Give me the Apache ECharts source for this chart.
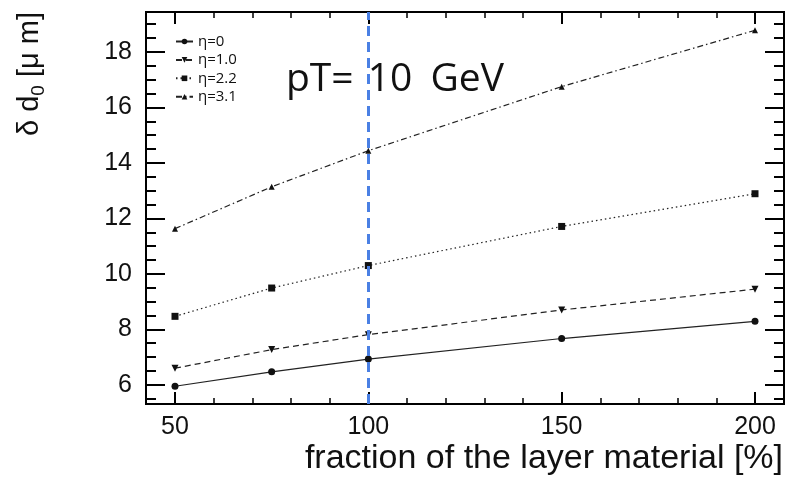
<!DOCTYPE html>
<html>
<head>
<meta charset="utf-8">
<script src="https://cdn.jsdelivr.net/npm/echarts@6/dist/echarts.min.js"></script>
<style>
html,body{margin:0;padding:0;background:#fff;}
#chart{width:785px;height:478px;}
</style>
</head>
<body>
<div id="chart"></div>
<script>
// ---- data ----
const xValues = [50, 75, 100, 150, 200];
const seriesNames = ['η=0', 'η=1.0', 'η=2.2', 'η=3.1'];
const eta0  = [5.95, 6.47, 6.93, 7.67, 8.29];
const eta10 = [6.60, 7.27, 7.81, 8.70, 9.45];
const eta22 = [8.47, 9.49, 10.30, 11.71, 12.89];
const eta31 = [11.63, 13.14, 14.44, 16.75, 18.78];
const xTicks = [50, 100, 150, 200];
const yTicks = [6, 8, 10, 12, 14, 16, 18];
const markerX = 100;
const titleParts = ['pT=', '10', 'GeV'];
const xTitle = 'fraction of the layer material [%]';

// ---- layout ----
const W = 785, H = 478;
const FR = {left: 146, right: 784, top: 12, bottom: 404};
const XR = [42.5, 207.5], YR = [5.31, 19.44];
const px = v => FR.left + (v - XR[0]) / (XR[1] - XR[0]) * (FR.right - FR.left);
const py = v => FR.top + (YR[1] - v) / (YR[1] - YR[0]) * (FR.bottom - FR.top);

const AX_FONT = 'Liberation Sans, Arial, Helvetica, sans-serif';
const TX_FONT = 'Open Sans, Noto Sans, sans-serif';
const ink = '#111';
const hidden = {show: false};

function pairs(ys) { return xValues.map((x, i) => [x, ys[i]]); }

const chart = echarts.init(document.getElementById('chart'), null, {renderer: 'canvas'});

const yMajMin = yTicks[0], yMajMax = yTicks[yTicks.length - 1];
const yMinMin = 5.5, yMinMax = 19;

const tStyle = {fontFamily: TX_FONT, fontSize: 39, fontWeight: 'normal', color: ink};
const option = {
  animation: false,
  backgroundColor: '#fff',
  title: [
    {text: '{a|' + titleParts[0] + ' }{b|' + titleParts[1] + ' }{c|' + titleParts[2] + '}',
     left: 286, top: 60, padding: 0,
     textStyle: {fontFamily: TX_FONT, fontSize: 39, fontWeight: 'normal', color: ink,
       rich: {a: tStyle, b: Object.assign({padding: [0, 0, 0, 4]}, tStyle), c: Object.assign({padding: [0, 0, 0, 8]}, tStyle)}}},
    {text: xTitle, right: 2, top: 442, padding: 0,
     textStyle: {fontFamily: AX_FONT, fontSize: 34, fontWeight: 'normal', color: ink}}
  ],
  graphic: [{
    type: 'text', x: 30, y: 12, rotation: Math.PI / 2,
    style: {
      text: '{a|δ d}{s|0}{a| [μ m]}',
      align: 'right', verticalAlign: 'middle',
      rich: {
        a: {fontFamily: AX_FONT, fontSize: 29, lineHeight: 36, fill: ink},
        s: {fontFamily: AX_FONT, fontSize: 19, lineHeight: 36, verticalAlign: 'bottom', fill: ink}
      }
    }
  }],
  legend: {
    orient: 'vertical', left: 175, top: 34, padding: 0,
    itemWidth: 17, itemHeight: 7, itemGap: 3.4,
    data: seriesNames,
    textStyle: {fontFamily: TX_FONT, fontSize: 15, color: ink}
  },
  grid: [
    {left: FR.left, top: FR.top, width: FR.right - FR.left, height: FR.bottom - FR.top,
     show: true, borderColor: '#000', borderWidth: 2, backgroundColor: 'transparent'},
    {left: px(xTicks[0]), top: FR.top, width: px(xTicks[xTicks.length-1]) - px(xTicks[0]), height: FR.bottom - FR.top},
    {left: FR.left, top: py(yMajMax), width: FR.right - FR.left, height: py(yMajMin) - py(yMajMax)},
    {left: FR.left, top: py(yMinMax), width: FR.right - FR.left, height: py(yMinMin) - py(yMinMax)}
  ],
  xAxis: [
    {gridIndex: 0, type: 'value', min: XR[0], max: XR[1], axisLine: hidden, axisTick: hidden, axisLabel: hidden, splitLine: hidden},
    {gridIndex: 1, type: 'value', position: 'bottom', min: xTicks[0], max: xTicks[xTicks.length-1], interval: 50,
     axisLine: hidden, splitLine: hidden,
     axisTick: {show: true, inside: true, length: 12, lineStyle: {color: '#000', width: 2}},
     minorTick: {show: true, splitNumber: 5, length: 6, lineStyle: {color: '#000', width: 1.5}},
     axisLabel: {show: true, margin: 11, fontFamily: AX_FONT, fontSize: 25, color: ink}},
    {gridIndex: 1, type: 'value', position: 'top', min: xTicks[0], max: xTicks[xTicks.length-1], interval: 50,
     axisLine: hidden, splitLine: hidden, axisLabel: hidden,
     axisTick: {show: true, inside: true, length: 12, lineStyle: {color: '#000', width: 2}},
     minorTick: {show: true, splitNumber: 5, length: 6, lineStyle: {color: '#000', width: 1.5}}},
    {gridIndex: 2, type: 'value', min: 0, max: 1, show: false},
    {gridIndex: 3, type: 'value', min: 0, max: 1, show: false}
  ],
  yAxis: [
    {gridIndex: 0, type: 'value', min: YR[0], max: YR[1], axisLine: hidden, axisTick: hidden, axisLabel: hidden, splitLine: hidden},
    {gridIndex: 1, type: 'value', min: 0, max: 1, show: false},
    {gridIndex: 2, type: 'value', position: 'left', min: yMajMin, max: yMajMax, interval: 2,
     axisLine: hidden, splitLine: hidden,
     axisTick: {show: true, inside: true, length: 19, lineStyle: {color: '#000', width: 2}},
     axisLabel: {show: true, margin: 14, fontFamily: AX_FONT, fontSize: 25, color: ink}},
    {gridIndex: 2, type: 'value', position: 'right', min: yMajMin, max: yMajMax, interval: 2,
     axisLine: hidden, splitLine: hidden, axisLabel: hidden,
     axisTick: {show: true, inside: true, length: 19, lineStyle: {color: '#000', width: 2}}},
    {gridIndex: 3, type: 'value', position: 'left', min: yMinMin, max: yMinMax, interval: 0.5,
     axisLine: hidden, splitLine: hidden, axisLabel: hidden,
     axisTick: {show: true, inside: true, length: 10, lineStyle: {color: '#000', width: 2}}},
    {gridIndex: 3, type: 'value', position: 'right', min: yMinMin, max: yMinMax, interval: 0.5,
     axisLine: hidden, splitLine: hidden, axisLabel: hidden,
     axisTick: {show: true, inside: true, length: 10, lineStyle: {color: '#000', width: 2}}}
  ],
  series: [
    {name: seriesNames[0], type: 'line', xAxisIndex: 0, yAxisIndex: 0, data: pairs(eta0),
     symbol: 'circle', symbolSize: 7, itemStyle: {color: ink},
     lineStyle: {color: '#222', width: 1.2, type: 'solid'}},
    {name: seriesNames[1], type: 'line', xAxisIndex: 0, yAxisIndex: 0, data: pairs(eta10),
     symbol: 'triangle', symbolSize: 7, symbolRotate: 180, itemStyle: {color: ink},
     lineStyle: {color: '#222', width: 1.2, type: [6, 4]}},
    {name: seriesNames[2], type: 'line', xAxisIndex: 0, yAxisIndex: 0, data: pairs(eta22),
     symbol: 'rect', symbolSize: 7, itemStyle: {color: ink},
     lineStyle: {color: '#222', width: 1.2, type: [1.5, 3]}},
    {name: seriesNames[3], type: 'line', xAxisIndex: 0, yAxisIndex: 0, data: pairs(eta31),
     symbol: 'triangle', symbolSize: 6, itemStyle: {color: ink},
     lineStyle: {color: '#222', width: 1.2, type: [6, 3, 1.5, 3]},
     markLine: {silent: true, symbol: 'none', label: {show: false},
       lineStyle: {color: '#4a80e4', width: 3, type: [10, 6]},
       data: [{xAxis: markerX}]}}
  ]
};
chart.setOption(option);
</script>
</body>
</html>
